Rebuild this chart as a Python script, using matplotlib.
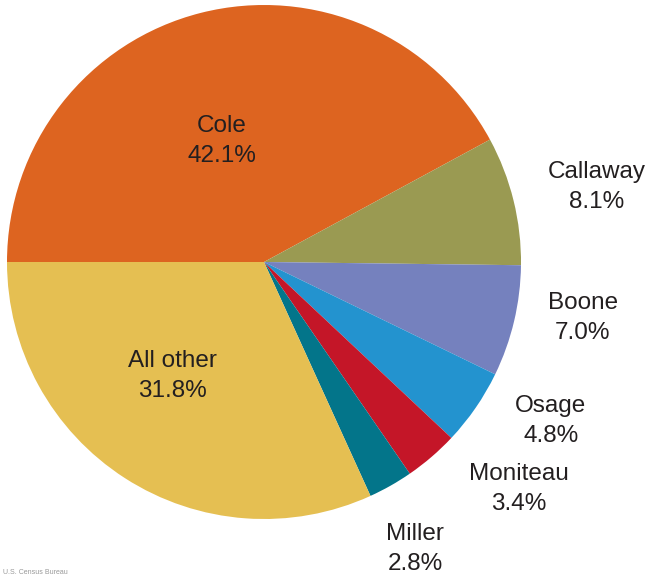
import matplotlib.pyplot as plt

# county shares of commuters
counties = ['Cole', 'Callaway', 'Boone', 'Osage', 'Moniteau', 'Miller', 'All other']
shares = [42.1, 8.1, 7.0, 4.8, 3.4, 2.8, 31.8]
colors = ['#DD6420', '#9A9A52', '#7581BE', '#2393CF', '#C41628', '#03758A', '#E5BF52']

plt.rcParams['font.family'] = ['Liberation Sans', 'DejaVu Sans']

W, H = 647, 577
cx, cy, r = 264, 262, 257

fig = plt.figure(figsize=(W / 100, H / 100), dpi=100)
ax = fig.add_axes([(cx - r) / W, (H - cy - r) / H, 2 * r / W, 2 * r / H])
ax.pie(shares, colors=colors, startangle=180, counterclock=False,
       wedgeprops=dict(linewidth=0))
ax.set_xlim(-1, 1)
ax.set_ylim(-1, 1)
ax.axis('off')

# label centres in pixels
label_px = {
    'Cole': (222, 141),
    'Callaway': (597, 187),
    'Boone': (583, 318),
    'Osage': (551, 421),
    'Moniteau': (519, 489),
    'Miller': (415, 549),
    'All other': (172, 376),
}
for name, val in zip(counties, shares):
    px, py = label_px[name]
    ax.text((px - cx) / r, (cy - py) / r, '{}\n{:.1f}%'.format(name, val),
            ha='center', va='center', multialignment='center',
            fontsize=17.5, color='#231F20', linespacing=1.42, clip_on=False)

fig.text(0.005, 0.002, 'U.S. Census Bureau', fontsize=5, color='#999999',
         ha='left', va='bottom')

fig.savefig('out.png', dpi=100)
